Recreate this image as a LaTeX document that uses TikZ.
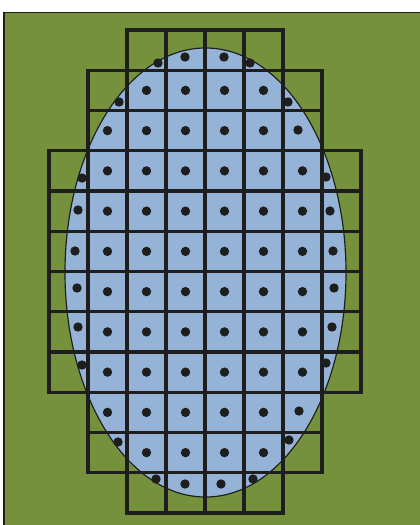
\documentclass[tikz,border=0pt]{standalone}
\usetikzlibrary{calc}
\definecolor{fieldgreen}{HTML}{76913C}
\definecolor{lakeblue}{HTML}{95B3D7}
\definecolor{inkdark}{HTML}{1E1E1E}
\tikzset{
  gridline/.style={draw=inkdark, line width=2.6pt},
  dotmark/.style={fill=inkdark},
}
\newcommand{\cellrow}[3]{% row #1 of squares, from column #2 to column #3
  \foreach \c in {#2,...,#3}
    \draw[gridline] ({49+39*\c},{30+40.25*#1}) rectangle +(39,40.25);
}
\newcommand{\centredots}[3]{% dots at the middle of the squares of row #1
  \foreach \c in {#2,...,#3}
    \fill[dotmark] ({68.5+39*\c},{50.125+40.25*#1}) circle[radius=4pt];
}

\begin{document}
\begin{tikzpicture}[x=0.03cm,y=-0.03cm]
  \useasboundingbox (0,0) rectangle (420,525);
  % field and its frame
  \fill[fieldgreen] (4,12.5) rectangle (420,525);
  \draw[inkdark, line width=1.3pt] (4,525) -- (4,12.5) -- (420,12.5);
  % the lake
  \filldraw[fill=lakeblue, draw=inkdark, line width=1pt]
    (205.5,272.5) ellipse[x radius=4.215cm, y radius=6.735cm];
  % squares
  \cellrow{0}{2}{5}
  \foreach \r in {1,2} {\cellrow{\r}{1}{6}}
  \foreach \r in {3,...,8} {\cellrow{\r}{0}{7}}
  \foreach \r in {9,10} {\cellrow{\r}{1}{6}}
  \cellrow{11}{2}{5}
  % dots in whole squares
  \foreach \r in {1,10} {\centredots{\r}{2}{5}}
  \foreach \r in {2,9} {\centredots{\r}{1}{5}}
  \foreach \r in {3,...,8} {\centredots{\r}{1}{6}}
  % dots in the cut squares along the shore
  \foreach \p in {(158,63),(185,57),(224,57),(250,63),
                  (119,102),(288,102),(298,130),
                  (82,178),(326,177),(78,210),(330,211),
                  (75,251),(333,251),(77,288),(334,288),
                  (78,327),(332,327),(82,365),(326,363),
                  (299,411),(118,442),(289,440),
                  (156,479),(185,484),(221,484),(253,479)}
    \fill[dotmark] \p circle[radius=4pt];
\end{tikzpicture}
\end{document}
